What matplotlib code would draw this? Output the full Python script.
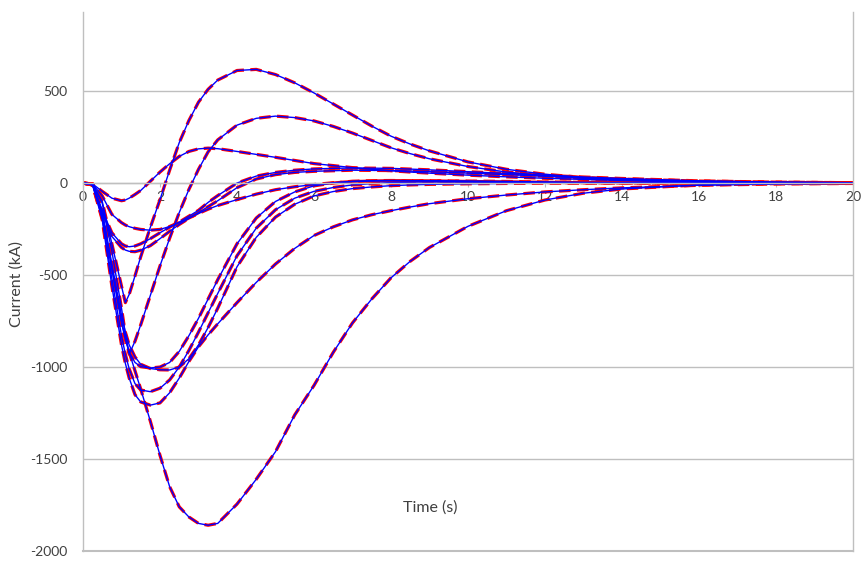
import matplotlib.pyplot as plt
import numpy as np

plt.rcParams['font.family'] = ['Lato', 'DejaVu Sans']
plt.rcParams['axes.unicode_minus'] = False

# time grid (s) shared by all curves
time_s = [0, 0.25, 0.5, 0.75, 1.0, 1.1, 1.2, 1.35, 1.5, 1.75,
          2.0, 2.25, 2.5, 2.75, 3.0, 3.25, 3.5, 4.0, 4.5, 5.0,
          5.5, 6.0, 6.5, 7.0, 7.5, 8.0, 8.5, 9.0, 10.0, 11.0,
          12.0, 13.0, 14.0, 16.0, 18.0, 20.0]

# currents (kA)
cur_a1 = [0, -5, -45, -82, -96, -92, -82, -62, -40, 10,
          60, 105, 145, 172, 186, 190, 187, 172, 156, 140,
          123, 106, 95, 84, 75, 67, 60, 54, 43, 34,
          26, 20, 14, 6, 2, 0]
cur_a2 = [0, -5, -70, -170, -215, -228, -237, -246, -252, -256,
          -252, -236, -215, -190, -165, -142, -122, -90, -60, -36,
          -20, -8, 2, 8, 11, 13, 13, 13, 11, 9,
          6, 4, 3, 1, 0, 0]
cur_a3 = [0, -8, -150, -270, -330, -342, -346, -342, -330, -302,
          -270, -240, -212, -180, -148, -105, -68, 0, 38, 58,
          70, 77, 80, 82, 81, 80, 76, 72, 62, 52,
          42, 33, 25, 12, 5, 2]
cur_a4 = [0, -8, -160, -290, -350, -364, -371, -373, -365, -340,
          -302, -262, -225, -192, -160, -128, -96, -25, 22, 46,
          58, 64, 67, 70, 69, 68, 65, 62, 54, 46,
          37, 29, 22, 11, 5, 2]
cur_s1 = [0, -5, -100, -330, -560, -650, -605, -505, -400, -240,
          -90, 70, 220, 340, 440, 510, 560, 612, 618, 590,
          545, 490, 430, 370, 310, 255, 212, 175, 115, 75,
          48, 30, 18, 6, 2, 0]
cur_s2 = [0, -5, -110, -370, -680, -820, -930, -860, -770, -610,
          -450, -300, -160, -35, 75, 170, 235, 315, 352, 364,
          356, 338, 308, 272, 232, 192, 160, 132, 90, 60,
          40, 26, 16, 6, 2, 0]
cur_s3 = [0, -8, -170, -470, -760, -850, -920, -975, -998, -1005,
          -1000, -975, -915, -830, -735, -630, -525, -330, -190, -100,
          -48, -15, 0, 10, 13, 14, 13, 12, 9, 6,
          4, 2, 1, 0, 0, 0]
cur_s4 = [0, -8, -150, -440, -720, -810, -880, -945, -985, -1008,
          -1015, -1016, -1000, -955, -880, -785, -680, -455, -295, -185,
          -115, -70, -46, -30, -21, -14, -10, -7, -4, -2,
          -1, -1, 0, 0, 0, 0]
cur_s5 = [0, -10, -190, -520, -830, -930, -1010, -1090, -1125, -1134,
          -1115, -1070, -1000, -910, -810, -705, -600, -395, -245, -145,
          -82, -45, -24, -10, -3, 3, 5, 6, 5, 4,
          3, 2, 1, 0, 0, 0]
cur_s6 = [0, -10, -200, -560, -880, -980, -1060, -1150, -1190, -1207,
          -1195, -1140, -1060, -970, -890, -825, -765, -650, -540, -440,
          -355, -285, -238, -200, -172, -150, -130, -112, -85, -65,
          -48, -36, -26, -12, -5, -2]
cur_s7 = [0, -10, -170, -460, -750, -840, -920, -1020, -1120, -1295,
          -1480, -1650, -1760, -1815, -1850, -1860, -1850, -1745, -1610, -1460,
          -1260, -1100, -920, -760, -630, -515, -425, -350, -235, -150,
          -92, -55, -32, -10, -3, -1]

curves = [cur_a1, cur_a2, cur_a3, cur_a4, cur_s1, cur_s2,
          cur_s3, cur_s4, cur_s5, cur_s6, cur_s7]

x_ticks = list(range(0, 21, 2))
y_ticks = [-2000, -1500, -1000, -500, 0, 500]

grid_col = '#BFBFBF'
text_col = '#404040'

fig = plt.figure(figsize=(8.65, 5.70), dpi=100)
ax = fig.add_axes([83 / 865, 1 - 551 / 570, 770 / 865, 539 / 570])

t = np.array(time_s)
# reference (red dashed) under the model (blue solid)
for c in curves:
    ax.plot(t, c, color='#FF0000', lw=2.3, ls=(0, (3.6, 2.0)), solid_capstyle='butt')
for c in curves:
    ax.plot(t, c, color='#0000FF', lw=1.0)

ax.set_xlim(0, 20)
ax.set_ylim(-2000, 930)
ax.set_xticks(x_ticks)
ax.set_xticklabels([str(v) for v in x_ticks])
ax.set_yticks(y_ticks)
ax.set_yticklabels([str(v) for v in y_ticks])

ax.grid(axis='y', color=grid_col, lw=1.0)
ax.set_axisbelow(True)

ax.spines['top'].set_visible(False)
ax.spines['bottom'].set_position(('data', 0))
for s in ['left', 'bottom', 'right']:
    ax.spines[s].set_color(grid_col)
    ax.spines[s].set_linewidth(1.0)
ax.axhline(-2000, color=grid_col, lw=1.5, clip_on=False, zorder=0)

ax.tick_params(axis='y', length=0, pad=11, labelsize=10, labelcolor=text_col)
ax.tick_params(axis='x', length=3, color=grid_col, pad=3, labelsize=10,
               labelcolor=text_col)

fig.text(17 / 865, 1 - 284 / 570, 'Current (kA)', rotation=90,
         ha='center', va='center', fontsize=11.5, color=text_col)
fig.text(430 / 865, 1 - 508 / 570, 'Time (s)', ha='center', va='center',
         fontsize=11.5, color=text_col)

fig.savefig('out.png', dpi=100)
